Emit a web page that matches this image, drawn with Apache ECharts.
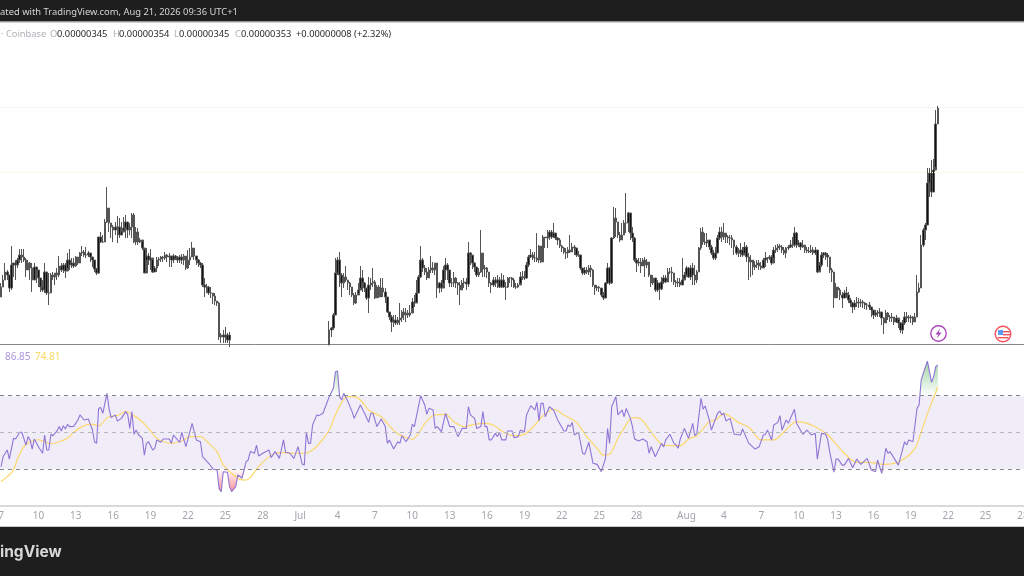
<!DOCTYPE html>
<html><head><meta charset="utf-8">
<style>html,body{margin:0;padding:0;background:#fff}#c{width:1024px;height:576px}</style>
<script src="https://cdn.jsdelivr.net/npm/echarts@6/dist/echarts.min.js"></script>
</head><body><div id="c"></div>
<script>
// Prices in units of 0.00000001. June 7 00:00 = slot 0, one slot per 4h.
const closesJune=[
263.5,267,271,269.5,263,274.5,275.5,274.5,277,279.5,
278.5,277,272,275.5,273,267,273.5,272,268,263.5,
262,271,260.5,260.5,269.5,268.5,270.5,269.5,274,272,
274.5,271.5,277,274.5,275.5,274,278.5,275.5,280.5,281,
279.5,279.5,280.5,278.5,277,272.5,270.5,288.5,286,286,
296,303,295.5,293.5,292,293.5,293.5,289.5,291,293,
296,292,293.5,299.5,286,291,286,287,283,270.5,
279,277,278,271,273,277,277.5,278.5,278,279.5,
278.5,279,277,279,278,277,278.5,277,279,273,
277,278.5,283,279,277,275.5,274.5,264.5,263.5,263.5,
260.5,260.5,259,256.5,255.5,238.5,239.5,238.5,239.5,237,
239.5];
const highsJune=[
265.5,269.5,275.5,272,269.5,284,275.5,277,278,282.5,
282.5,282.5,278,277,276,275.5,275.5,273.5,272,268,
267,275.5,271,270.5,270.5,271,270.5,273,279,275.5,
275.5,275.5,280.5,282.5,278,278,279,278.5,281,284,
282,283.5,281.5,280.5,278.5,277,273,288.5,291,289.5,
297.5,313.5,298.5,295.5,294.5,296,299,298,296,298.5,
299.5,296,295.5,300.5,300.5,293.5,293,288,286,282,
283,280.5,282.5,277,274,278.5,278.5,279,279,281,
280,280.5,279,280,279.5,279,279.5,280,280,278.5,
282,283,286,282.5,279,277.5,276,275.5,268,265,
264,263.5,260.5,260.5,256.5,256,240.5,242,243.5,240.5,
241];
const lowsJune=[
258.5,263.5,267,267,261,262,268.5,267,273,275.5,
275.5,276,268.5,272,267,261,267,265.5,263.5,261,
261,260.5,259.5,254.5,260.5,267,264.5,267,268.5,271,
270.5,268,273,272,273,273,273.5,274.5,277,279,
278.5,278,278.5,276,273.5,271,269.5,270,285.5,285.5,
287,295.5,291,288,286,289.5,285.5,288,289.5,292,
288,288,289.5,288,285.5,284.5,284.5,285.5,282,270.5,
277,274.5,272,270.5,271,271,274,276,276,277,
276,273.5,273.5,275.5,277,275.5,275.5,275,274.5,272,
272.5,274.5,278.5,277,274.5,273.5,273,263.5,258.5,260.5,
259.5,258,255,254.5,254,237,235.5,235.5,235.5,235.5,
233.5];
const hiddenSlots=47; // candles below the visible price range
const closesLate=[
242,243,249.5,270.5,277,269.5,265.5,268.5,267,265.5,
263.5,259.5,255.5,259.5,262,268,265.5,263,258,264.5,
265.5,266,258,263.5,258.5,263,261,258.5,251,248.5,
246,247,245.5,247,248,251,249.5,250.5,249.5,250.5,
256,255.5,260.5,268.5,277,273,271,268,272,273,
272,275.5,263,265.5,263,272,274.5,272,265.5,265.5,
268,265.5,264.5,262,265.5,266,265,280.5,279.5,275.5,
273.5,269.5,271,280.5,272.5,273,271,265.5,264.5,267,
265.5,267,263.5,267,263.5,263.5,268,268,267,263.5,
263.5,264.5,268.5,268.5,268,274.5,278.5,279.5,278,278,
277,284,276,288.5,288,288.5,291,288.5,290.5,288,
287,284,283,281,280.5,282,281,283.5,283,279.5,
279.5,273,270.5,272,271,273,272,264.5,263,263.5,
263,259.5,258,265.5,273,265.5,288,298,296,289.5,
287,289.5,295.5,295.5,300.5,290.5,288,277,275.5,276,
274,277,274.5,276,269.5,265.5,268,262,265.5,262.5,
266,268,266,271,271,270.5,266,265.5,266,264.5,
267,269.5,273,268.5,273,269.5,267,271,283,291,
286,285.5,287,283.5,280.5,278,280.5,288,291,288.5,
290.5,288.5,288,288,287,283.5,280.5,280.5,282,279.5,
283.5,278.5,276,277,273.5,274.5,275.5,274,273,277,
278,278,278.5,275.5,282,283,284,283.5,282,280.5,
283,283.5,284.5,284.5,290.5,284.5,285.5,283.5,284.5,282,
281.5,281,282,280.5,282,271,274.5,279.5,280.5,279.5,
278.5,272,271,258,263.5,262,259.5,258,260.5,259.5,
257,255.5,253.5,255.5,256,255.5,256,255.5,254.5,254.5,
253.5,252,249.5,250.5,250.5,251,248,245.5,250.5,248.5,
248,248.5,246,248,245.5,242,245.5,248.5,248.5,248,
248.5,246,248.5,261,263,284.5,292,294.5,315.5,320.5,
311,322,345,353];
const highsLate=[
246.5,243.5,250.5,278,278.5,281,270.5,270.5,274,267,
266,263.5,260.5,261,265.5,274,272,266,263,268.5,
268,273,267,264.5,264.5,268,268,263,258.5,251,
249.5,249.5,249.5,248.5,255.5,252,253,253,252,254.5,
258,259.5,267,269.5,284,278,274.5,273,273.5,279,
276,275.5,274.5,266,267,274,278,275.5,272,268,
271,268.5,266,266,267,268,268,286,281,279,
276,273.5,273,292,280.5,274.5,273.5,270.5,266,268.5,
268.5,269.5,268.5,270.5,269.5,266,268.5,268.5,268.5,268,
265.5,265.5,271,271.5,271.5,276,279.5,282.5,281,281,
290.5,284.5,284,289.5,288.5,292,292,292,295.5,290.5,
288.5,288,284.5,283.5,283,283.5,289.5,285.5,284.5,283,
281.5,279.5,273,273.5,273.5,274.5,274.5,272.5,264,264.5,
264,263,261,266,275.5,273.5,288.5,303.5,303,296,
291,295.5,297,310.5,301,300.5,293.5,288.5,278,278,
278,278,278.5,277.5,276,269.5,269.5,268,267,265.5,
268.5,269.5,269.5,273,273,273.5,269.5,267,268,268,
278,271,274,273.5,274.5,275.5,274.5,272,283.5,293,
293.5,290.5,290.5,287,284.5,282,283.5,289.5,293.5,293.5,
295.5,290.5,289.5,289.5,289.5,287,284.5,283,285.5,283.5,
286,284.5,280.5,279.5,277,276.5,277,277,276,278,
281,278.5,279.5,279.5,283.5,284.5,285,285,284.5,283.5,
283.5,284.5,287,288.5,293.5,291,287,286,287,283.5,
283.5,283.5,284.5,283.5,283.5,282,276,281,281,281,
280.5,278,273,271,265.5,263.5,263,261,262,263.5,
261,258,256,257,258.5,258,257.5,257,256,255.5,
256,253.5,252,252,252,253,251,248.5,252,251,
249.5,250.5,248.5,249.5,247,246,247,251,251,249.5,
249.5,249,250.5,269.5,265.5,289.5,293,295.5,323,323,
327,327.5,352,354];
const lowsLate=[
234.5,238.5,242,249.5,269.5,263.5,258.5,263,266,262,
259.5,258.5,254.5,255,260.5,263,261,261,257,250.5,
262,263.5,257.5,258,258,260.5,258.5,255.5,250.5,247,
241,243.5,244.5,244.5,244.5,246,247,246,248,248.5,
253,253.5,256,260.5,268,271,269.5,267,268,270.5,
270.5,269.5,258,260.5,261,265.5,267,267,263.5,263.5,
263.5,263,259.5,254.5,262,263,262,263.5,274.5,272.5,
271,268.5,268.5,270.5,268.5,268.5,268,263.5,260.5,263.5,
263.5,263,263,263,263,257,263,265.5,263.5,263,
262.5,263,265.5,267,267,267.5,273.5,278,277,276,
276,275.5,275.5,283,283,283,287,287.5,288,287,
284.5,283,281,280,277.5,278,280.5,281,279.5,278.5,
278.5,272,269.5,269.5,270,269.5,268.5,263.5,259.5,261.5,
261,258.5,257,258,265,264.5,265,287.5,288.5,288,
286,287,289.5,290.5,291,287,286,276,271,274,
270.5,274.5,268.5,273,268.5,263.5,264.5,261,261,257,
262,265,265.5,268,270,266,264.5,263.5,263.5,263.5,
264.5,268,268.5,268,267,264.5,264.5,265.5,271,282,
284.5,284.5,283.5,282,279.5,277,277,280.5,287,286,
287,285.5,285.5,284.5,283,279.5,279.5,278.5,278.5,278.5,
280.5,276,267,268.5,269.5,272,273,272,272,273.5,
273.5,275.5,277,274.5,278,280.5,281,282,280.5,279.5,
278,282,283,283,283.5,283,283.5,282,283,280.5,
280.5,280.5,280.5,279.5,279.5,270.5,272,273.5,278,277,
273.5,270.5,266,253,258,258,257,253,258,258,
255.5,253.5,250.5,252,253.5,253,253.5,253,252.5,252,
252,248.5,247.5,248.5,248.5,248.5,244.5,240,245.5,247,
246,246,244.5,245.5,243,240.5,240,244.5,246,246,
245.5,244.5,246,248.5,260.5,263,283.5,287,294.5,308.5,
308.5,311,323.5,345];
const priceLineLast=353.5, priceLineLevel=321;

const rsiIndex=[
0,1,3,4,6,7,9,10,12,13,14,15,16,18,20,21,22,23,24,25,27,28,29,30,31,32,33,35,37,38,40,42,44,45,46,47,48,49,51,52,53,55,56,58,60,61,62,63,64,65,66,68,69,70,71,73,74,75,77,78,81,82,83,85,86,87,89,92,94,96,97,100,102,104,105,106,107,109,110,111,113,114,116,118,119,120,122,123,124,126,129,130,132,134,136,137,139,141,143,145,146,147,148,149,150,152,153,155,158,160,161,162,
163,164,165,167,169,170,173,175,177,178,179,181,183,185,186,187,189,191,192,193,195,197,198,199,202,204,205,206,208,209,210,212,214,216,218,220,222,224,225,226,228,229,231,232,233,234,235,236,238,239,240,241,243,244,246,247,249,250,252,253,255,257,258,259,260,261,262,264,266,268,271,272,273,274,275,276,278,280,281,283,285,287,289,291,292,293,294,296,297,299,300,301,303,304,305,307,309,311,312,313,315,318,
319,320,322,324,325,326,327,329,331,333,334,335,337,338,339,341,342,345,346,347,348,349,351,353,356,357,360,361,363,365,367,368,369,371,372,374,375,376,378,379,382,383,386,388,390,392,393,395,397,398,399,401,402,403,405,406,408,410,412,414,417,419,421,422,424,426,427,428,430,432,434,435,436,437,439,441,442,443,444,446,448,449,450,451];
const rsiValues=[
31.1,36.6,40.3,35.3,46.7,46.3,50,50,43,47.6,45.8,40.8,46.3,42.1,38.5,48.5,40.3,40.3,48.9,48.1,50.7,53.1,50.7,53.6,51.8,54.3,53.1,53.2,56.7,59.5,56.7,57.3,51.2,44.8,43.9,63.1,63.5,60.4,71.3,63.1,58,59.5,56.2,57.6,61.3,59.5,52.1,61.3,48.9,51.2,48.9,46.7,37.5,43.9,44.8,40.3,41.2,45.8,44.5,46.3,46.3,43.9,48.5,45.8,44.5,50,42.1,54.9,45.8,44.8,36.6,33,29.9,29.3,18.9,17.5,28.4,28.1,20.2,17.5,20.2,26.6,24.8,33.9,34.8,39.4,38.5,43,37,38.5,40.3,36.1,39.4,35.7,45.8,39,38.5,35.7,42.1,32.6,32.1,50,43.9,43.9,54,59.5,59.1,60.4,69.5,74.1,83.2,83.6,
69.5,67.7,71.3,66.8,61.3,57.6,64.9,60.4,55.4,60.4,60.4,53.1,57.3,53.1,43.9,45.8,40.8,44.8,43.9,48.1,44.8,48.5,54.3,53.1,70,64.9,59.8,63.1,62.2,52.1,53.1,50.3,60.4,53.1,53.1,47.6,52.1,52.1,64,59.5,57.6,52.1,53.1,61.3,53.1,53.1,45.8,45.8,49.4,47.6,50,45.8,45.8,50.7,50.7,47,47.6,51.2,50.3,59.5,64.6,62.2,66.4,56.2,65.8,65.8,58.5,64,62.2,56.7,50.7,50.7,54,53.1,55.4,48.5,50,38.5,37.9,44.5,33,32.4,28.4,35.7,52.1,43.9,64,69.5,59.5,62.2,58.5,63.1,57.6,53.1,46.3,45.2,46.3,44.8,38.5,42.1,36.6,43.9,
41.9,45.8,48.9,43.9,43,41.2,46.3,52.1,46.7,54.9,48.1,49.4,68.6,62.7,64.4,56.7,51.2,60.4,61.6,59.5,60.4,56.2,57.6,48.9,48.5,51.8,43.9,43,40.8,42.1,48.5,48.9,51.2,45.8,54,55.4,59.1,51.2,56.7,54.9,62.6,54.9,48.9,51.2,48.5,49.4,35.3,49.4,48.9,45.8,39,28.1,35.3,35.3,32,32,35.7,30.6,35.3,32.4,35.7,29.3,28.4,34.8,27.5,41.2,38.5,39.4,35.7,32,40.3,44.8,43,45.8,44.8,63.1,64.9,78.6,82.3,89,77.3,80.5,85.9,86.85];

const maIndex=[0,3,6,8,11,14,18,21,24,28,32,35,39,43,47,50,52,56,60,63,67,71,75,79,82,87,91,96,100,104,107,111,115,118,121,124,128,132,136,141,146,150,154,158,161,164,167,170,173,177,183,186,190,194,198,201,205,209,214,218,223,228,233,237,242,247,252,257,261,266,271,277,282,287,290,293,297,301,304,308,313,318,322,327,331,335,341,344,348,355,360,366,372,377,383,391,398,406,412,418,425,433,440,443,447,451];
const maValues=[22.9,25.7,29.3,35.7,42.1,44.8,45.9,44.8,43.7,44.8,46.7,50,53.1,54.5,53.6,56.7,58.5,59.1,61.3,59.8,56.7,52.1,46.7,44.5,43.9,45.2,47.6,47.6,43.9,39.4,32.1,27.5,24.2,23.8,26.6,31.2,35.7,38.5,38.8,38.5,38.5,40.3,44.8,51.2,59.5,66.4,69.5,69.5,67.7,62.2,58.5,54.9,50,47.6,46.1,49.4,56.2,59.5,59.8,55.8,53.1,54.3,54.9,54,50,48.1,48.9,54,59.1,62.6,59.5,55.4,47.6,41.2,37.5,37.9,46.7,54,58,57.3,50,43.4,42.7,42.7,46.3,48.1,55.8,56.7,60.2,55.4,52.7,45.8,45.8,50.3,55.8,53.6,48.5,38.5,33.5,33.5,32.4,34.3,41.2,50.3,63.1,74.81];

const tickLabels=['7','10','13','16','19','22','25','28','Jul','4','7','10','13','16','19','22','25','28','Aug','4','7','10','13','16','19','22','25','28'];
const tickSlots=[0,18,36,54,72,90,108,126,144,162,180,198,216,234,252,270,288,306,330,348,366,384,402,420,438,456,474,492];
const slotCount=493;

const closes=[...closesJune,...new Array(hiddenSlots).fill(null),...closesLate];
const highs=[...highsJune,...new Array(hiddenSlots).fill(null),...highsLate];
const lows=[...lowsJune,...new Array(hiddenSlots).fill(null),...lowsLate];
const candles=closes.map((c,i)=>c===null?['-','-','-','-']:[closes[i-1]!=null?closes[i-1]:lows[i],c,lows[i],highs[i]]);
const slots=Array.from({length:slotCount},(_,i)=>{const k=tickSlots.indexOf(i);return k<0?'':tickLabels[k];});
const rsi=rsiIndex.map((x,i)=>[x,rsiValues[i]]);
const ma=maIndex.map((x,i)=>[x,maValues[i]]);
const rsiOver=rsi.map(p=>[p[0],Math.max(p[1],70)]);
const rsiUnder=rsi.map(p=>[p[0],Math.min(p[1],30)]);

const FONT='"Noto Sans",sans-serif';
const GREY='#aeb0b6', BLK='#2a2a2a';
const legend=[['· Coinbase',1,GREY],['O',50,GREY],['0.00000345',57,BLK],['H',113,GREY],['0.00000354',119,BLK],['L',174,GREY],['0.00000345',179,BLK],['C',235,GREY],['0.00000353',241,BLK],['+0.00000008 (+2.32%)',296,BLK]];

const chart=echarts.init(document.getElementById('c'),null,{renderer:'canvas'});
chart.setOption({
  animation:false,
  backgroundColor:'#fff',
  grid:[{left:0,right:0,top:22,height:322,outerBoundsMode:'none'},{left:0,right:0,top:345,height:161,outerBoundsMode:'none'}],
  xAxis:[
    {type:'category',gridIndex:0,data:slots,axisTick:{show:false},axisLabel:{show:false},axisLine:{show:true,lineStyle:{color:'#85878e',width:1}},splitLine:{show:false}},
    {type:'category',gridIndex:1,data:slots,boundaryGap:true,axisTick:{show:false},
     axisLine:{show:true,lineStyle:{color:'#d9d9dc',width:2}},splitLine:{show:false},
     axisLabel:{show:true,interval:(i)=>tickSlots.indexOf(i)>=0,color:'#a3a5ab',fontSize:10,fontFamily:FONT,margin:5,hideOverlap:false,showMinLabel:true,showMaxLabel:true,alignMinLabel:'center',alignMaxLabel:'center'}}
  ],
  yAxis:[
    {type:'value',gridIndex:0,min:235,max:396,show:false,splitLine:{show:false}},
    {type:'value',gridIndex:1,min:9.6,max:97.8,show:false,splitLine:{show:false}}
  ],
  series:[
    {type:'candlestick',xAxisIndex:0,yAxisIndex:0,data:candles,barWidth:2,clip:true,large:false,
     itemStyle:{color:'#111',color0:'#111',borderColor:'#555',borderColor0:'#555',borderWidth:1},
     markLine:{silent:true,symbol:'none',label:{show:false},animation:false,data:[
       {yAxis:priceLineLast,lineStyle:{color:'#ecece4',type:'dotted',width:1}},
       {yAxis:priceLineLevel,lineStyle:{color:'#fdf6c4',type:'dotted',width:1}}]}},
    {type:'line',xAxisIndex:1,yAxisIndex:1,data:rsiOver,showSymbol:false,silent:true,lineStyle:{width:0,opacity:0},
     areaStyle:{origin:70,opacity:1,color:new echarts.graphic.LinearGradient(0,0,0,1,[{offset:0,color:'rgba(76,175,80,0.55)'},{offset:1,color:'rgba(76,175,80,0)'}])}},
    {type:'line',xAxisIndex:1,yAxisIndex:1,data:rsiUnder,showSymbol:false,silent:true,lineStyle:{width:0,opacity:0},
     areaStyle:{origin:30,opacity:1,color:new echarts.graphic.LinearGradient(0,0,0,1,[{offset:0,color:'rgba(242,54,69,0)'},{offset:1,color:'rgba(242,54,69,0.55)'}])}},
    {type:'line',xAxisIndex:1,yAxisIndex:1,data:rsi,showSymbol:false,z:4,lineStyle:{color:'#8f74d6',width:1.1},
     markArea:{silent:true,itemStyle:{color:'rgba(126,87,194,0.11)'},data:[[{yAxis:70},{yAxis:30}]]},
     markLine:{silent:true,symbol:'none',label:{show:false},animation:false,data:[
       {yAxis:70,lineStyle:{color:'#85878e',type:[4,4],width:1}},
       {yAxis:50,lineStyle:{color:'#b8b8c0',type:[4,4],width:1}},
       {yAxis:30,lineStyle:{color:'#85878e',type:[4,4],width:1}}]}},
    {type:'line',xAxisIndex:1,yAxisIndex:1,data:ma,showSymbol:false,smooth:0.3,z:3,lineStyle:{color:'#fcd76a',width:1.2}}
  ],
  graphic:[
    {type:'rect',z:100,shape:{x:0,y:0,width:1024,height:21.5},style:{fill:'#1e1e1e'}},
    {type:'line',z:100,shape:{x1:0,y1:22,x2:1024,y2:22},style:{stroke:'#a0a0a0',lineWidth:1}},
    {type:'text',z:101,x:0,y:12.5,style:{text:'ated with TradingView.com, Aug 21, 2026 09:36 UTC+1',fill:'#d4d4d4',fontSize:9.4,fontFamily:FONT,verticalAlign:'middle'}},
    {type:'rect',z:100,shape:{x:0,y:527,width:1024,height:49},style:{fill:'#1e1e1e'}},
    {type:'line',z:100,shape:{x1:0,y1:526.5,x2:1024,y2:526.5},style:{stroke:'#c9c9c9',lineWidth:1}},
    {type:'text',z:101,x:0,y:552,style:{text:'ingView',fill:'#d8d8d8',fontSize:15.5,fontWeight:'bold',fontFamily:'Inter,'+FONT,verticalAlign:'middle'}},
    ...legend.map(s=>({type:'text',z:101,x:s[1],y:34.5,style:{text:s[0],fill:s[2],fontSize:9.3,fontFamily:FONT,verticalAlign:'middle'}})),
    {type:'text',z:101,x:5,y:357.5,style:{text:'86.85',fill:'#a993dc',fontSize:10,fontFamily:FONT,verticalAlign:'middle'}},
    {type:'text',z:101,x:35,y:357.5,style:{text:'74.81',fill:'#fbd862',fontSize:10,fontFamily:FONT,verticalAlign:'middle'}},
    // event markers
    {type:'circle',z:101,shape:{cx:938.5,cy:333.5,r:7.7},style:{fill:'#fff',stroke:'#ab47bc',lineWidth:1.4}},
    {type:'polygon',z:102,shape:{points:[[940,328.5],[935.5,334.5],[938.3,334.5],[937,338.5],[941.5,332.5],[938.7,332.5]]},style:{fill:'#ab47bc'}},
    {type:'circle',z:101,shape:{cx:1003,cy:334,r:7.8},style:{fill:'#fff',stroke:'#f7525f',lineWidth:1.4}},
    {type:'rect',z:102,shape:{x:998,y:330,width:5,height:5},style:{fill:'#5b9cf6'}},
    {type:'rect',z:102,shape:{x:1003,y:331,width:6.5,height:1.4},style:{fill:'#f7525f'}},
    {type:'rect',z:102,shape:{x:1003,y:334,width:7,height:1.4},style:{fill:'#f7525f'}},
    {type:'rect',z:102,shape:{x:997.5,y:337,width:11,height:1.4},style:{fill:'#f7525f'}}
  ]
});
</script></body></html>
